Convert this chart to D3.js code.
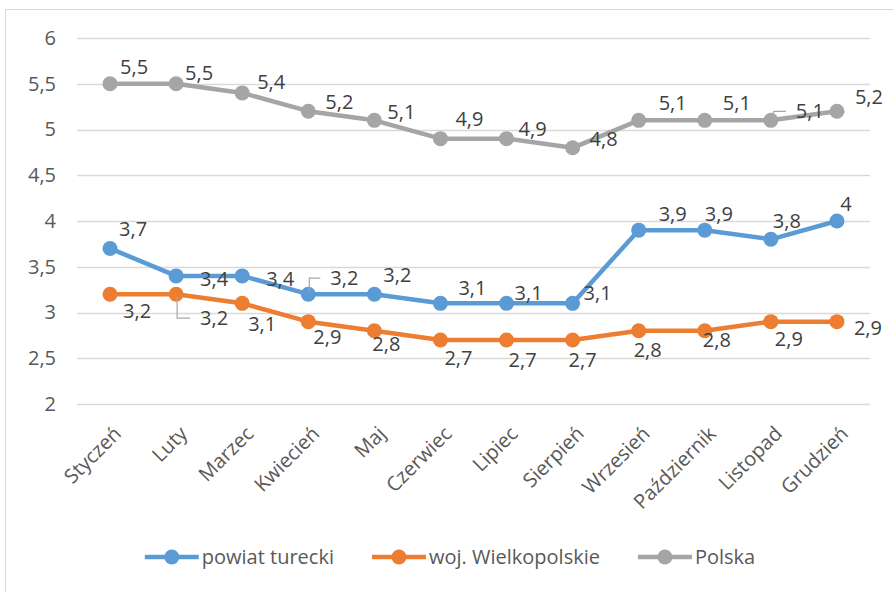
<!DOCTYPE html>
<html>
<head>
<meta charset="utf-8">
<script src="https://cdnjs.cloudflare.com/ajax/libs/d3/7.8.5/d3.min.js"></script>
<style>
  body { margin: 0; background: #fff; }
  svg { display: block; font-family: 'Open Sans', sans-serif; }
</style>
</head>
<body>
<div id="chart"></div>
<script>
// data
var months = ['Styczeń', 'Luty', 'Marzec', 'Kwiecień', 'Maj', 'Czerwiec', 'Lipiec',
  'Sierpień', 'Wrzesień', 'Październik', 'Listopad', 'Grudzień']
var powiatTurecki = [3.7, 3.4, 3.4, 3.2, 3.2, 3.1, 3.1, 3.1, 3.9, 3.9, 3.8, 4.0]
var wojWielkopolskie = [3.2, 3.2, 3.1, 2.9, 2.8, 2.7, 2.7, 2.7, 2.8, 2.8, 2.9, 2.9]
var polska = [5.5, 5.5, 5.4, 5.2, 5.1, 4.9, 4.9, 4.8, 5.1, 5.1, 5.1, 5.2]
var yTicks = [2, 2.5, 3, 3.5, 4, 4.5, 5, 5.5, 6]

// label offsets (px) relative to each point, like excel placed them
var lblPowiat = [[23, -19], [38, 3], [38, 3], [36, -16], [23, -19], [32, -15], [22, -10], [25, -10], [34, -16], [14, -16], [16, -18], [9, -17]]
var lblWoj = [[27, 17], [38, 24], [20, 21], [19, 15], [12, 13], [18, 18], [16, 20], [10, 20], [9, 19], [12, 9], [18, 17], [31, 6]]
var lblPolska = [[24, -17], [23, -11], [29, -11], [31, -9], [27, -8], [29, -20], [26, -10], [31, -9], [34, -17], [32, -17], [39, -9], [32, -14]]

var series = [
  { name: 'powiat turecki', values: powiatTurecki, color: '#5B9BD5', lbl: lblPowiat },
  { name: 'woj. Wielkopolskie', values: wojWielkopolskie, color: '#ED7D31', lbl: lblWoj },
  { name: 'Polska', values: polska, color: '#A5A5A5', lbl: lblPolska }
]

var W = 893, H = 592
var margin = { top: 38, left: 77, right: 23, bottom: 188 }
var w = W - margin.left - margin.right
var h = H - margin.top - margin.bottom
var fs = '20px'

var svg = d3.select('#chart').append('svg')
  .attr('width', W)
  .attr('height', H)

// chart border
svg.append('rect')
  .attr('x', 5.5).attr('y', 9.5)
  .attr('width', W + 10).attr('height', H + 10)
  .attr('fill', 'none')
  .attr('stroke', '#D9D9D9')

var g = svg.append('g')
  .attr('transform', 'translate(' + margin.left + ',' + margin.top + ')')

var x = d3.scalePoint()
  .domain(months)
  .range([0, w])
  .padding(0.5)

var y = d3.scaleLinear()
  .domain([2, 6])
  .range([h, 0])

// gridlines
g.append('g')
  .selectAll('line')
  .data(yTicks)
  .enter().append('line')
  .attr('x1', 0).attr('x2', w)
  .attr('y1', function(d) { return Math.round(y(d)) + 0.5 })
  .attr('y2', function(d) { return Math.round(y(d)) + 0.5 })
  .attr('stroke', '#D9D9D9')
  .attr('stroke-width', 1.5)

// y axis labels
var fmt = function(d) { return String(d).replace('.', ',') }
var yAxis = g.append('g')
  .call(d3.axisLeft(y).tickValues(yTicks).tickFormat(fmt).tickSize(0).tickPadding(21))
yAxis.select('.domain').remove()
yAxis.selectAll('text')
  .attr('fill', '#595959')
  .style('font-size', fs)
  .style('font-family', 'Open Sans, sans-serif')

// x axis labels, rotated
var xAxis = g.append('g')
  .attr('transform', 'translate(0,' + h + ')')
  .call(d3.axisBottom(x).tickSize(0).tickPadding(0))
xAxis.select('.domain').remove()
xAxis.selectAll('text')
  .attr('fill', '#595959')
  .style('font-size', fs)
  .style('font-family', 'Open Sans, sans-serif')
  .attr('text-anchor', 'end')
  .attr('dy', '0.35em')
  .attr('y', 0)
  .attr('transform', 'translate(7,26) rotate(-45)')

// lines and markers
var line = d3.line()
  .x(function(d, i) { return x(months[i]) })
  .y(function(d) { return y(d) })

series.forEach(function(s) {
  g.append('path')
    .datum(s.values)
    .attr('d', line)
    .attr('fill', 'none')
    .attr('stroke', s.color)
    .attr('stroke-width', 4.5)
    .attr('stroke-linejoin', 'round')

  g.selectAll('.dot-' + s.name.replace(/\W/g, ''))
    .data(s.values)
    .enter().append('circle')
    .attr('cx', function(d, i) { return x(months[i]) })
    .attr('cy', function(d) { return y(d) })
    .attr('r', 7.5)
    .attr('fill', s.color)
})

// leader lines for the moved labels
var leaders = [
  { s: 0, i: 3, corner: [-35, -17], end: [-24, -17] },
  { s: 1, i: 1, corner: [-37, 24], end: [-24, 24] },
  { s: 2, i: 10, corner: [-36, -11], end: [-24, -11] }
]
leaders.forEach(function(l) {
  var s = series[l.s]
  var px = x(months[l.i]), py = y(s.values[l.i])
  var lx = px + s.lbl[l.i][0], ly = py + s.lbl[l.i][1]
  var up = l.corner[1] < 0 ? -2 : 2
  g.append('polyline')
    .attr('points', [[px + 1, py + up], [lx + l.corner[0], ly], [lx + l.end[0], ly]].map(function(p) { return p.join(',') }).join(' '))
    .attr('fill', 'none')
    .attr('stroke', '#A6A6A6')
    .attr('stroke-width', 1.2)
})

// data labels
series.forEach(function(s) {
  g.selectAll('.lbl-' + s.name.replace(/\W/g, ''))
    .data(s.values)
    .enter().append('text')
    .attr('x', function(d, i) { return x(months[i]) + s.lbl[i][0] })
    .attr('y', function(d, i) { return y(d) + s.lbl[i][1] })
    .attr('dy', '0.35em')
    .attr('text-anchor', 'middle')
    .attr('fill', '#404040')
    .style('font-size', fs)
    .text(fmt)
})

// legend
var legend = svg.append('g').attr('transform', 'translate(0,557)')
var lx = 0
var items = legend.selectAll('g')
  .data(series)
  .enter().append('g')
items.append('line')
  .attr('x1', 0).attr('x2', 54)
  .attr('stroke', function(d) { return d.color })
  .attr('stroke-width', 4.5)
items.append('circle')
  .attr('cx', 27).attr('r', 7.5)
  .attr('fill', function(d) { return d.color })
items.append('text')
  .attr('x', 57)
  .attr('dy', '0.35em')
  .attr('fill', '#595959')
  .style('font-size', fs)
  .text(function(d) { return d.name })
items.each(function() {
  var bw = this.getBBox().width
  d3.select(this).attr('transform', 'translate(' + lx + ',0)')
  lx += bw + 38
})
var totalW = lx - 38
legend.attr('transform', 'translate(' + (450 - totalW / 2) + ',557)')
</script>
</body>
</html>
